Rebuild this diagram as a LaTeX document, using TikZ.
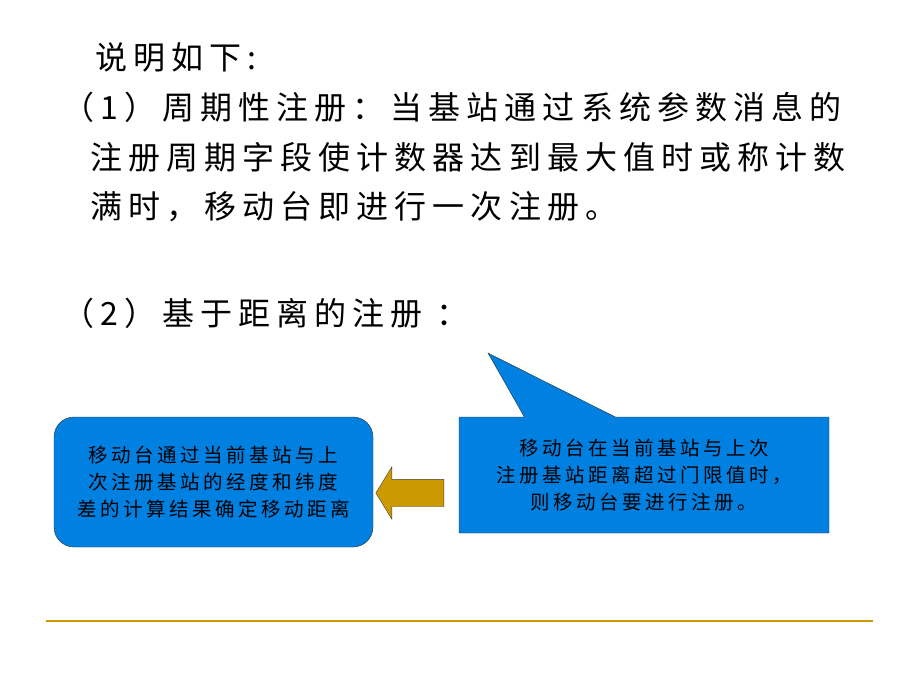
\documentclass[tikz,border=0pt]{standalone}
\usepackage{fontspec}
\newfontfamily\cjk[LetterSpace=19]{Noto Sans CJK SC}
\newfontfamily\cjkbox[LetterSpace=18]{Noto Sans CJK SC}
\usetikzlibrary{shapes.arrows,shapes.callouts,positioning}
\definecolor{boxblue}{RGB}{0,128,224}
\definecolor{gold}{RGB}{204,153,0}
\tikzset{%
    textline/.style={anchor=west, inner sep=0pt,
        font=\cjk\fontsize{32}{38}\selectfont},
    bluebox/.style={draw=black!80, fill=boxblue, align=center,
        font=\cjkbox\fontsize{19.5}{27}\selectfont},
    goldarrow/.style={single arrow, shape border rotate=180, fill=gold,
        draw=black!75, inner xsep=0pt, inner ysep=13.5pt}
}
\begin{document}
\begin{tikzpicture}[x=1pt,y=-1pt]
\useasboundingbox (0,0) rectangle (920,690);
\node[textline] (title) at (95,57) {说明如下:};
\node[textline] (periodA) at (62,107) {（1）周期性注册：当基站通过系统参数消息的};
\node[textline] (periodB) at (90,157) {注册周期字段使计数器达到最大值时或称计数};
\node[textline] (periodC) at (90,207) {满时，移动台即进行一次注册。};
\node[textline] (distance) at (62,313) {（2）基于距离的注册\hspace{14pt}：};
\node[bluebox, rounded corners=20pt, minimum width=319pt, minimum height=130pt]
    (calc) at (213.5,482) {移动台通过当前基站与上\\次注册基站的经度和纬度\\差的计算结果确定移动距离};
\node[bluebox, rectangle callout, minimum width=370pt, minimum height=116pt,
    callout absolute pointer={(488,353)}, callout pointer width=91pt]
    (cond) at (644,475) {移动台在当前基站与上次\\注册基站距离超过门限值时，\\则移动台要进行注册。};
\node[goldarrow, minimum height=68pt,
    single arrow head extend=12.5pt, single arrow tip angle=117]
    (move) at (414,493) {};
\coordinate (ruleL) at (46,621);
\coordinate (ruleR) at (873,621);
\draw[gold, line width=2pt] (ruleL) -- (ruleR);
\end{tikzpicture}
\end{document}
